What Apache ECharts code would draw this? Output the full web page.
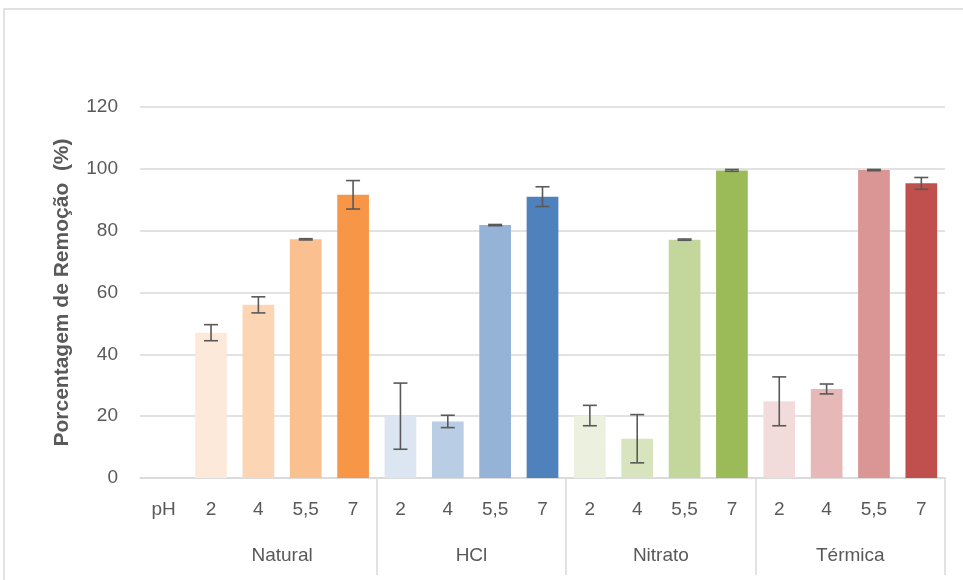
<!DOCTYPE html>
<html><head><meta charset="utf-8">
<script src="https://cdn.jsdelivr.net/npm/echarts@6/dist/echarts.min.js"></script>
<style>html,body{margin:0;padding:0;background:#fff}#c{width:963px;height:580px}</style>
</head><body><div id="c"></div>
<script>
var categories = ['pH','2','4','5,5','7','2','4','5,5','7','2','4','5,5','7','2','4','5,5','7'];
var groups = ['Natural','HCl','Nitrato','Térmica'];
var natural = [47, 56, 77.2, 91.6];
var naturalErr = [2.6, 2.6, 0.2, 4.6];
var hcl = [20, 18.3, 81.8, 91];
var hclErr = [10.7, 2.0, 0.2, 3.2];
var nitrato = [20.2, 12.7, 77.1, 99.5];
var nitratoErr = [3.3, 7.8, 0.2, 0.3];
var termica = [24.8, 28.8, 99.6, 95.3];
var termicaErr = [7.9, 1.6, 0.2, 1.9];
var yTicks = [0, 20, 40, 60, 80, 100, 120];
var colors = [
  ['#FDE9D9','#FCD5B5','#FAC090','#F79646'],
  ['#DCE6F2','#B9CDE5','#95B3D7','#4F81BD'],
  ['#EBF1DE','#D7E4BD','#C3D69B','#9BBB59'],
  ['#F2DCDB','#E6B9B8','#D99694','#C0504D']
];

var vals = [natural, hcl, nitrato, termica];
var errs = [naturalErr, hclErr, nitratoErr, termicaErr];
var barData = [null];
var errData = [];
for (var g = 0; g < vals.length; g++) {
  for (var k = 0; k < vals[g].length; k++) {
    var idx = 1 + g * 4 + k;
    barData.push({value: vals[g][k], itemStyle: {color: colors[g][k]}});
    errData.push([idx, vals[g][k] - errs[g][k], vals[g][k] + errs[g][k]]);
  }
}
var groupAxis = [];
for (var i = 0; i <= categories.length; i++) groupAxis.push('');
for (var g2 = 0; g2 < groups.length; g2++) groupAxis[3 + g2 * 4] = groups[g2];
var sepIdx = [5, 9, 13, 17];

var chart = echarts.init(document.getElementById('c'), null, {renderer: 'canvas'});
var fontFam = '"Liberation Sans", Arial, sans-serif';
chart.setOption({
  animation: false,
  graphic: [{type: 'rect', shape: {x: 4, y: 9, width: 1000, height: 700}, style: {fill: 'none', stroke: '#d9d9d9', lineWidth: 1.5}, silent: true}],
  grid: {left: 140, right: 18, top: 107, bottom: 102},
  xAxis: [{
    type: 'category', data: categories, position: 'bottom',
    axisLine: {lineStyle: {color: '#d9d9d9', width: 1.5}},
    axisTick: {show: false},
    axisLabel: {interval: 0, color: '#595959', fontSize: 19, fontFamily: fontFam, margin: 22}
  }, {
    type: 'category', data: groupAxis, position: 'bottom', boundaryGap: false,
    axisLine: {show: false},
    axisTick: {show: true, length: 97, interval: function (index) { return sepIdx.indexOf(index) >= 0; }, lineStyle: {color: '#d9d9d9', width: 1.5}},
    axisLabel: {interval: 0, color: '#595959', fontSize: 19, fontFamily: fontFam, margin: 68}
  }],
  yAxis: {
    type: 'value', min: yTicks[0], max: yTicks[yTicks.length - 1], interval: 20,
    name: 'Porcentagem de Remoção  (%)', nameLocation: 'middle', nameGap: 67,
    nameTextStyle: {color: '#595959', fontSize: 21, fontWeight: 'bold', fontFamily: fontFam},
    axisLine: {show: false}, axisTick: {show: false},
    axisLabel: {color: '#595959', fontSize: 19, fontFamily: fontFam, margin: 22},
    splitLine: {lineStyle: {color: '#d9d9d9', width: 1.5}}
  },
  series: [{
    type: 'bar', data: barData, xAxisIndex: 0, barCategoryGap: '33%'
  }, {
    type: 'custom', xAxisIndex: 0, data: errData, z: 10,
    renderItem: function (params, api) {
      var x = api.value(0);
      var lo = api.coord([x, api.value(1)]);
      var hi = api.coord([x, api.value(2)]);
      var hw = 7;
      var st = {stroke: '#595959', lineWidth: 1.6, fill: 'none'};
      return {type: 'group', children: [
        {type: 'line', shape: {x1: lo[0], y1: lo[1], x2: hi[0], y2: hi[1]}, style: st},
        {type: 'line', shape: {x1: lo[0] - hw, y1: lo[1], x2: lo[0] + hw, y2: lo[1]}, style: st},
        {type: 'line', shape: {x1: hi[0] - hw, y1: hi[1], x2: hi[0] + hw, y2: hi[1]}, style: st}
      ]};
    }
  }]
});
</script></body></html>
